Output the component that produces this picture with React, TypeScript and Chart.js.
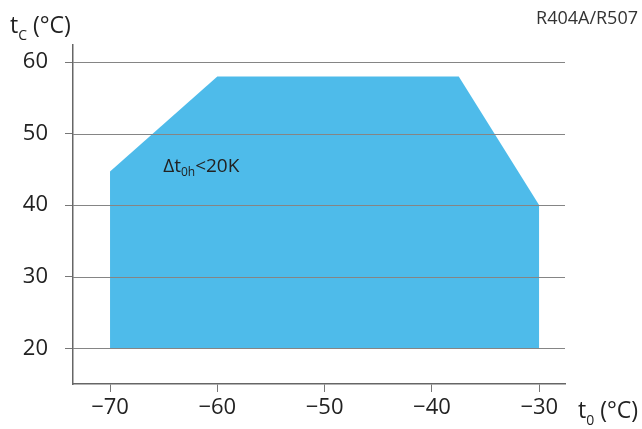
import React, { useEffect, useRef } from "react";
import { Chart, registerables } from "chart.js";

Chart.register(...registerables);

const evapTemps = [-70, -60, -37.5, -30];
const condTemps = [44.7, 58, 58, 40];
const floorTemp = 20;
const xTickValues = [-70, -60, -50, -40, -30];
const yTickValues = [20, 30, 40, 50, 60];
const refrigerantLabel = "R404A/R507";

const FONT = "'Open Sans', 'Noto Sans', sans-serif";
const TEXT = "#222";

const overlay = {
  id: "overlay",
  afterDatasetsDraw(chart: any) {
    const { ctx, chartArea, scales } = chart;
    const ys = scales.y;
    const xs = scales.x;
    ctx.save();
    ctx.strokeStyle = "#858585";
    ctx.lineWidth = 1;
    yTickValues.forEach((v) => {
      const py = Math.round(ys.getPixelForValue(v)) + 0.5;
      ctx.beginPath();
      ctx.moveTo(chartArea.left, py);
      ctx.lineTo(chartArea.right, py);
      ctx.stroke();
    });
    ctx.fillStyle = TEXT;
    ctx.textBaseline = "alphabetic";
    ctx.textAlign = "left";
    // annotation
    let ax = xs.getPixelForValue(-65.05);
    const ay = ys.getPixelForValue(44.6);
    ctx.font = `19px ${FONT}`;
    ctx.fillText("Δt", ax, ay);
    ax += ctx.measureText("Δt").width;
    ctx.font = `12px ${FONT}`;
    ctx.fillText("0h", ax, ay + 4);
    ax += ctx.measureText("0h").width;
    ctx.font = `19px ${FONT}`;
    ctx.fillText("<20K", ax, ay);
    // y title
    ctx.font = `23px ${FONT}`;
    let tx = 10;
    ctx.fillText("t", tx, 33);
    tx += ctx.measureText("t").width;
    ctx.font = `14px ${FONT}`;
    ctx.fillText("C", tx, 40);
    tx += ctx.measureText("C").width;
    ctx.font = `23px ${FONT}`;
    ctx.fillText(" (°C)", tx, 33);
    // x title
    tx = 578;
    ctx.fillText("t", tx, 418);
    tx += ctx.measureText("t").width;
    ctx.font = `14px ${FONT}`;
    ctx.fillText("0", tx, 425);
    tx += ctx.measureText("0").width;
    ctx.font = `23px ${FONT}`;
    ctx.fillText(" (°C)", tx, 418);
    // refrigerant
    ctx.font = `18px ${FONT}`;
    ctx.fillStyle = "#333";
    ctx.textAlign = "right";
    ctx.fillText(refrigerantLabel, 638, 24);
    ctx.restore();
  },
};

export default function App() {
  const ref = useRef<HTMLCanvasElement>(null);
  useEffect(() => {
    if (!ref.current) return;
    const chart = new Chart(ref.current, {
      type: "line",
      data: {
        datasets: [
          {
            data: evapTemps.map((x, i) => ({ x, y: condTemps[i] })),
            fill: { value: floorTemp },
            backgroundColor: "#4ebbea",
            borderWidth: 0,
            pointRadius: 0,
            tension: 0,
          },
        ],
      },
      options: {
        responsive: false,
        animation: false,
        layout: { padding: { top: 45, right: 77, left: 0, bottom: 0 } },
        plugins: { legend: { display: false }, tooltip: { enabled: false } },
        scales: {
          x: {
            type: "linear",
            min: -73.45,
            max: -27.6,
            afterBuildTicks: (s: any) => {
              s.ticks = xTickValues.map((value) => ({ value }));
            },
            afterFit: (s: any) => {
              s.height = 45;
            },
            grid: { drawOnChartArea: false, tickLength: 8, color: "#777", lineWidth: 1 },
            border: { color: "#666", width: 1.5 },
            ticks: {
              padding: 3,
              color: TEXT,
              font: { family: FONT, size: 22 },
              callback: (v: any) => (v < 0 ? "\u2212" + Math.abs(v) : String(v)),
            },
          },
          y: {
            type: "linear",
            min: 15,
            max: 62.4,
            afterBuildTicks: (s: any) => {
              s.ticks = yTickValues.map((value) => ({ value }));
            },
            afterFit: (s: any) => {
              s.width = 73;
            },
            grid: { drawOnChartArea: false, tickLength: 8, color: "#777", lineWidth: 1 },
            border: { color: "#666", width: 1.5 },
            ticks: {
              padding: 17,
              color: TEXT,
              font: { family: FONT, size: 22 },
            },
          },
        },
      },
      plugins: [overlay],
    });
    return () => chart.destroy();
  }, []);
  return (
    <div style={{ position: "absolute", left: 0, top: 0, width: 642, height: 429, background: "#fff" }}>
      <canvas ref={ref} width={642} height={429} />
    </div>
  );
}
